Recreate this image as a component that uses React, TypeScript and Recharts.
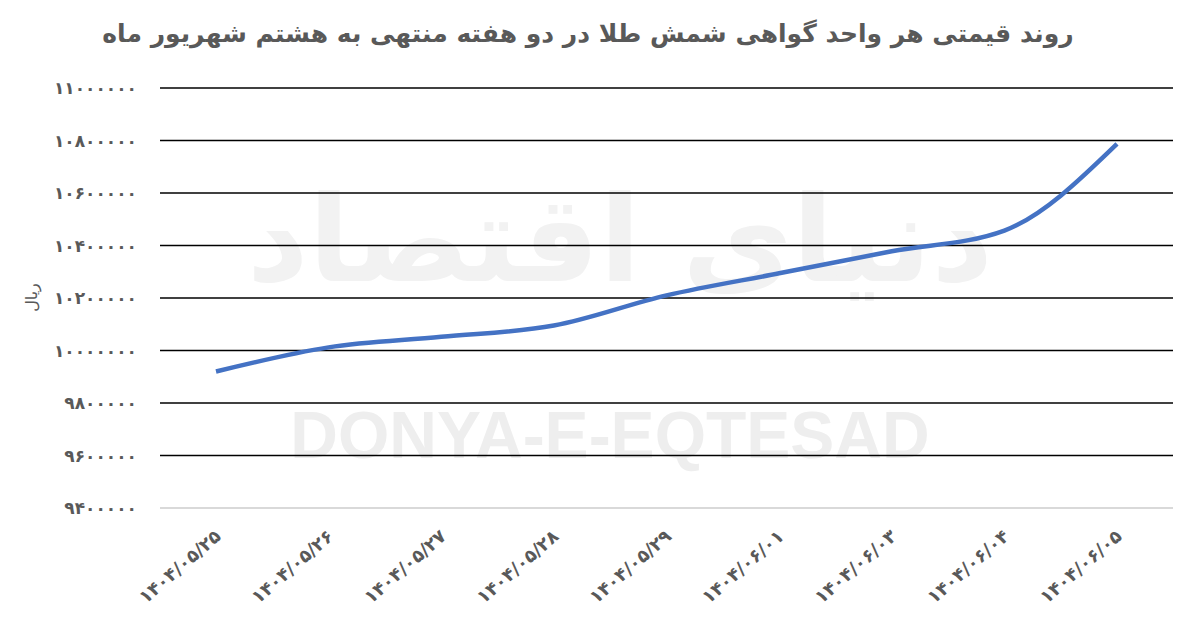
import React from 'react';
import { LineChart, Line, XAxis, YAxis, CartesianGrid } from 'recharts';

const categories = [
  '۱۴۰۴/۰۵/۲۵',
  '۱۴۰۴/۰۵/۲۶',
  '۱۴۰۴/۰۵/۲۷',
  '۱۴۰۴/۰۵/۲۸',
  '۱۴۰۴/۰۵/۲۹',
  '۱۴۰۴/۰۶/۰۱',
  '۱۴۰۴/۰۶/۰۳',
  '۱۴۰۴/۰۶/۰۴',
  '۱۴۰۴/۰۶/۰۵',
];
const prices = [9920000, 10012000, 10052000, 10095000, 10210000, 10294000, 10378000, 10457000, 10787000];
const yTicks = [9400000, 9600000, 9800000, 10000000, 10200000, 10400000, 10600000, 10800000, 11000000];
const gridValues = [9600000, 9800000, 10000000, 10200000, 10400000, 10600000, 10800000, 11000000];

const title = 'روند قیمتی هر واحد گواهی شمش طلا در دو هفته منتهی به هشتم شهریور ماه';
const unitLabel = 'ریال';

const data = categories.map((c, i) => ({ date: c, price: prices[i] }));

const toFa = (n: number | string) =>
  String(n).replace(/[0-9]/g, (d) => '۰۱۲۳۴۵۶۷۸۹'[Number(d)]);

const FONT = '"DejaVu Sans", sans-serif';
const TEXT = '#595959';

const XTick = (props: any) => {
  const { x, y, payload } = props;
  return (
    <text
      transform={`translate(${x + 6},${y + 22}) rotate(-41)`}
      textAnchor="end"
      fontFamily={FONT}
      fontSize={18}
      fontWeight="bold"
      fill={TEXT}
    >
      {payload.value}
    </text>
  );
};

const YTick = (props: any) => {
  const { x, y, payload } = props;
  return (
    <text x={x} y={y} dy={6} textAnchor="end" fontFamily={FONT} fontSize={17} fontWeight="bold" fill={TEXT}>
      {toFa(payload.value)}
    </text>
  );
};

export default function App() {
  return (
    <div style={{ position: 'absolute', left: 0, top: 0, width: 1200, height: 624, background: '#fff', overflow: 'hidden' }}>
      <div
        style={{
          position: 'absolute',
          left: 200,
          top: 150,
          width: 840,
          textAlign: 'center',
          fontFamily: FONT,
          fontWeight: 'bold',
          fontSize: 120,
          color: '#f2f2f2',
          direction: 'rtl',
          whiteSpace: 'nowrap',
          lineHeight: '180px',
        }}
      >
        دنیای اقتصاد
      </div>
      <div
        style={{
          position: 'absolute',
          left: 200,
          top: 395,
          width: 820,
          textAlign: 'center',
          fontFamily: '"Liberation Sans", sans-serif',
          fontWeight: 'bold',
          fontSize: 66,
          color: '#eeeeee',
          lineHeight: '80px',
        }}
      >
        DONYA-E-EQTESAD
      </div>
      <div
        style={{
          position: 'absolute',
          left: 0,
          top: 14,
          width: 1176,
          textAlign: 'center',
          fontFamily: FONT,
          fontWeight: 'bold',
          fontSize: 25,
          color: TEXT,
          direction: 'rtl',
          lineHeight: '40px',
        }}
      >
        {title}
      </div>
      <div
        style={{
          position: 'absolute',
          left: 6,
          top: 288,
          width: 50,
          textAlign: 'center',
          fontFamily: FONT,
          fontSize: 16,
          color: TEXT,
          transform: 'rotate(-90deg)',
          direction: 'rtl',
        }}
      >
        {unitLabel}
      </div>
      <div style={{ position: 'absolute', left: 0, top: 0 }}>
        <LineChart width={1200} height={624} data={data} margin={{ top: 88, right: 27, bottom: 36, left: 60 }}>
          <CartesianGrid horizontal vertical={false} horizontalValues={gridValues} stroke="#000" strokeWidth={1.6} />
          <XAxis
            dataKey="date"
            axisLine={{ stroke: '#d9d9d9', strokeWidth: 2 }}
            tickLine={false}
            tick={<XTick />}
            interval={0}
            height={80}
            padding={{ left: 56, right: 56 }}
          />
          <YAxis
            domain={[9400000, 11000000]}
            ticks={yTicks}
            axisLine={false}
            tickLine={false}
            tick={<YTick />}
            width={100}
            tickMargin={17}
          />
          <Line
            type="monotone"
            dataKey="price"
            stroke="#4472C4"
            strokeWidth={4.5}
            dot={false}
            isAnimationActive={false}
          />
        </LineChart>
      </div>
    </div>
  );
}
